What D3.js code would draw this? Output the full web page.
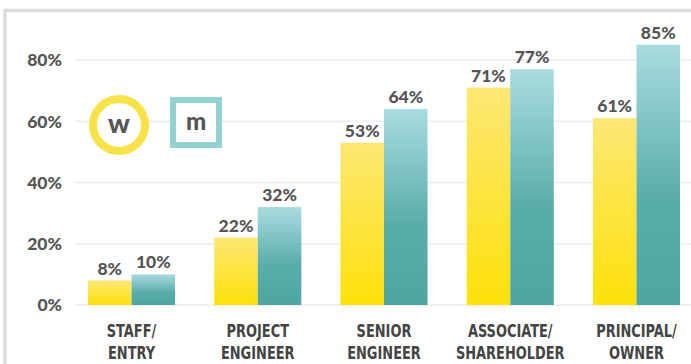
<!DOCTYPE html>
<html>
<head>
<meta charset="utf-8">
<script src="https://cdn.jsdelivr.net/npm/d3@7"></script>
<style>
  body { margin: 0; background: #fff; }
  svg { display: block; }
</style>
</head>
<body>
<div id="my_dataviz"></div>
<script>
// data
var categories = [["STAFF/", "ENTRY"], ["PROJECT", "ENGINEER"], ["SENIOR", "ENGINEER"], ["ASSOCIATE/", "SHAREHOLDER"], ["PRINCIPAL/", "OWNER"]];
var women = [8, 22, 53, 71, 61];
var men = [10, 32, 64, 77, 85];
var yTicks = [0, 20, 40, 60, 80];
var seriesKeys = ["w", "m"];

var width = 691, height = 364;

var svg = d3.select("#my_dataviz")
  .append("svg")
  .attr("width", width)
  .attr("height", height);

// frame
svg.append("rect").attr("x", 0).attr("y", 0).attr("width", width).attr("height", height).attr("fill", "#fff");
svg.append("path")
  .attr("d", "M5,364 V10.5 H691")
  .attr("fill", "none")
  .attr("stroke", "#dcdcdc")
  .attr("stroke-width", 3.5);

// gradients
var defs = svg.append("defs");
var gy = defs.append("linearGradient").attr("id", "gradW").attr("x1", 0).attr("y1", 0).attr("x2", 0).attr("y2", 1);
gy.append("stop").attr("offset", "0%").attr("stop-color", "#fde774");
gy.append("stop").attr("offset", "100%").attr("stop-color", "#fde10a");
var gm = defs.append("linearGradient").attr("id", "gradM").attr("x1", 0).attr("y1", 0).attr("x2", 0).attr("y2", 1);
gm.append("stop").attr("offset", "0%").attr("stop-color", "#a9dcdf");
gm.append("stop").attr("offset", "60%").attr("stop-color", "#58aca9");
gm.append("stop").attr("offset", "100%").attr("stop-color", "#50a5a2");

var catIdx = categories.map(function(d, i) { return i; });

var x = d3.scaleBand()
  .domain(catIdx)
  .range([68.4, 699.6])
  .paddingInner(0.31)
  .paddingOuter(0.155);

var xs = d3.scaleBand()
  .domain(seriesKeys)
  .range([0, x.bandwidth()]);

var y = d3.scaleLinear()
  .domain([0, 80])
  .range([305, 60]);

// grid lines
svg.append("g").selectAll("line")
  .data(yTicks)
  .enter()
  .append("line")
  .attr("x1", 75)
  .attr("x2", width)
  .attr("y1", function(d) { return y(d); })
  .attr("y2", function(d) { return y(d); })
  .attr("stroke", "#ebebeb")
  .attr("stroke-width", 1.5);

// y labels
svg.append("g").selectAll("text")
  .data(yTicks)
  .enter()
  .append("text")
  .attr("x", 62)
  .attr("y", function(d) { return y(d); })
  .attr("dy", "0.36em")
  .attr("text-anchor", "end")
  .attr("font-family", "Lato, sans-serif")
  .attr("font-weight", 900)
  .attr("font-size", 17.5)
  .attr("fill", "#555")
  .text(function(d) { return d + "%"; });

// bars
var rows = [];
catIdx.forEach(function(i) {
  rows.push({ cat: i, key: "w", value: women[i] });
  rows.push({ cat: i, key: "m", value: men[i] });
});

svg.append("g").selectAll("rect")
  .data(rows)
  .enter()
  .append("rect")
  .attr("x", function(d) { return x(d.cat) + xs(d.key); })
  .attr("y", function(d) { return y(d.value); })
  .attr("width", xs.bandwidth())
  .attr("height", function(d) { return y(0) - y(d.value); })
  .attr("fill", function(d) { return d.key == "w" ? "url(#gradW)" : "url(#gradM)"; });

// value labels
svg.append("g").selectAll("text")
  .data(rows)
  .enter()
  .append("text")
  .attr("x", function(d) { return x(d.cat) + xs(d.key) + xs.bandwidth() / 2; })
  .attr("y", function(d) { return y(d.value) - 6; })
  .attr("text-anchor", "middle")
  .attr("font-family", "Lato, sans-serif")
  .attr("font-weight", 900)
  .attr("font-size", 17.5)
  .attr("fill", "#555")
  .text(function(d) { return d.value + "%"; });

// category labels (condensed, two lines)
var sy = 1.15;
var cl = svg.append("g").selectAll("g")
  .data(catIdx)
  .enter()
  .append("g")
  .attr("transform", function(d) { return "translate(" + (x(d) + x.bandwidth() / 2) + ",0) scale(0.9," + sy + ")"; });
[0, 1].forEach(function(line) {
  cl.append("text")
    .attr("x", 0)
    .attr("y", (line == 0 ? 337 : 359) / sy)
    .attr("text-anchor", "middle")
    .attr("font-family", "'Liberation Sans Narrow', 'DejaVu Sans Condensed', sans-serif")
    .attr("font-weight", "bold")
    .attr("font-size", 16)
    .attr("fill", "#444")
    .text(function(d) { return categories[d][line]; });
});

// legend
var leg = svg.append("g");
leg.append("circle")
  .attr("cx", 119)
  .attr("cy", 125)
  .attr("r", 26)
  .attr("fill", "#fff")
  .attr("stroke", "#f6e34a")
  .attr("stroke-width", 8);
leg.append("text")
  .attr("x", 119)
  .attr("y", 125)
  .attr("dy", "0.3em")
  .attr("text-anchor", "middle")
  .attr("font-family", "Lato, sans-serif")
  .attr("font-weight", 900)
  .attr("font-size", 27)
  .attr("fill", "#555")
  .text("w");
leg.append("rect")
  .attr("x", 173)
  .attr("y", 100)
  .attr("width", 46)
  .attr("height", 45)
  .attr("fill", "#fff")
  .attr("stroke", "#92d2d3")
  .attr("stroke-width", 6);
leg.append("text")
  .attr("x", 196)
  .attr("y", 122.5)
  .attr("dy", "0.3em")
  .attr("text-anchor", "middle")
  .attr("font-family", "Lato, sans-serif")
  .attr("font-weight", 900)
  .attr("font-size", 24)
  .attr("fill", "#555")
  .text("m");
</script>
</body>
</html>
